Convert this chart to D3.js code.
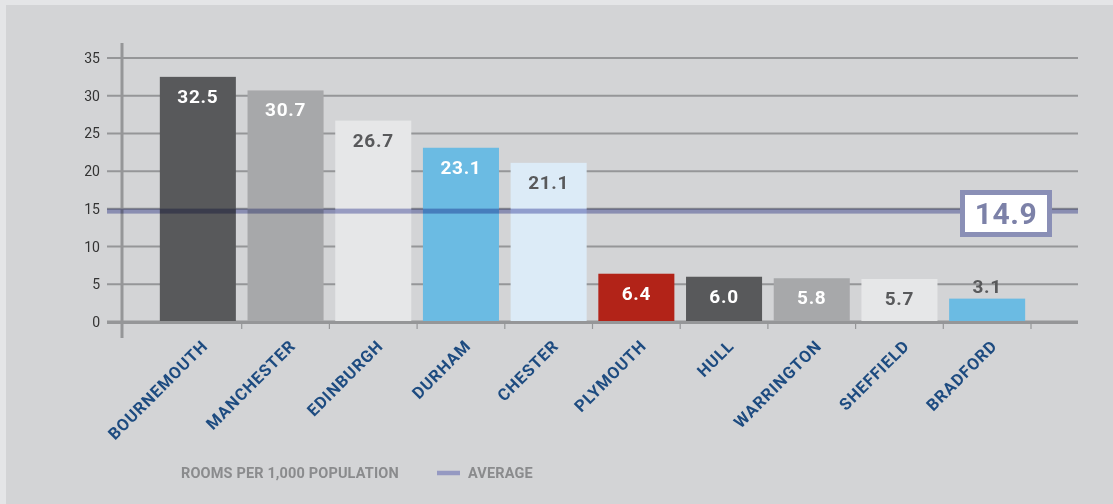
<!DOCTYPE html>
<html><head><meta charset="utf-8">
<script src="https://cdn.jsdelivr.net/npm/d3@7"></script>
<style>
html,body{margin:0;padding:0;background:#e4e5e7;}
svg{display:block;}
</style></head>
<body>
<script>
const categories = ["BOURNEMOUTH","MANCHESTER","EDINBURGH","DURHAM","CHESTER","PLYMOUTH","HULL","WARRINGTON","SHEFFIELD","BRADFORD"];
const values = [32.5, 30.7, 26.7, 23.1, 21.1, 6.4, 6.0, 5.8, 5.7, 3.1];
const valueLabels = ["32.5","30.7","26.7","23.1","21.1","6.4","6.0","5.8","5.7","3.1"];
const barColors = ["#58595b","#a7a8aa","#e6e7e8","#6bbbe3","#dcebf7","#b22318","#58595b","#a7a8aa","#e6e7e8","#6bbbe3"];
const labelColors = ["#ffffff","#ffffff","#58595b","#ffffff","#58595b","#ffffff","#ffffff","#ffffff","#58595b","#58595b"];
const average = 14.9;
const averageLabel = "14.9";
const yTicks = [0,5,10,15,20,25,30,35];
const legendLabels = ["ROOMS PER 1,000 POPULATION","AVERAGE"];

const W = 1113, H = 504;
const svg = d3.select("body").append("svg").attr("width", W).attr("height", H);
svg.append("rect").attr("x",6).attr("y",5).attr("width",W-6).attr("height",H-5).attr("fill","#d3d4d6");

const y = d3.scaleLinear().domain([0,35]).range([322,58]);
const x = d3.scaleBand().domain(categories).range([154,1031]).paddingInner(0.133).paddingOuter(0.0665);

// gridlines
const grid = svg.append("g");
yTicks.forEach(t => {
  grid.append("line").attr("x1",107).attr("x2",1078).attr("y1",y(t)).attr("y2",y(t))
    .attr("stroke","#959698").attr("stroke-width", t===0?3:2);
});
// y tick labels
svg.append("g").selectAll("text").data(yTicks).join("text")
  .attr("x",100).attr("y",d=>y(d)+5).attr("text-anchor","end")
  .attr("font-family","Roboto, sans-serif").attr("font-size",14).attr("fill","#333333")
  .text(d=>d);

// bars
svg.append("g").selectAll("rect").data(categories).join("rect")
  .attr("x",d=>x(d)).attr("width",x.bandwidth())
  .attr("y",(d,i)=>y(values[i])).attr("height",(d,i)=>y(0)-y(values[i]))
  .attr("fill",(d,i)=>barColors[i]);

// x axis line over bars bottom
svg.append("line").attr("x1",107).attr("x2",1078).attr("y1",y(0)+0.5).attr("y2",y(0)+0.5)
  .attr("stroke","#959698").attr("stroke-width",3);
// x ticks at band boundaries
const boundaries = categories.map(c => x(c) + x.bandwidth() + x.step()*0.0665);
svg.append("g").selectAll("line").data(boundaries).join("line")
  .attr("x1",d=>d).attr("x2",d=>d).attr("y1",y(0)).attr("y2",y(0)+7)
  .attr("stroke","#959698").attr("stroke-width",1.2);
// y axis line
svg.append("line").attr("x1",122).attr("x2",122).attr("y1",43).attr("y2",338)
  .attr("stroke","#959698").attr("stroke-width",3);

// average band
svg.append("rect").attr("x",107).attr("width",1078-107)
  .attr("y",y(average)-1).attr("height",5)
  .attr("fill","#a7abd4").style("mix-blend-mode","multiply");

// value labels
svg.append("g").selectAll("text").data(categories).join("text")
  .attr("x",d=>x(d)+x.bandwidth()/2)
  .attr("y",(d,i)=> values[i] < 5 ? y(values[i]) - 6 : y(values[i]) + 26)
  .attr("text-anchor","middle")
  .attr("font-family","Roboto, sans-serif").attr("font-weight","bold").attr("font-size",19)
  .attr("letter-spacing",0.7)
  .attr("fill",(d,i)=>labelColors[i])
  .text((d,i)=>valueLabels[i]);

// average box
svg.append("rect").attr("x",962.5).attr("y",192.5).attr("width",87).attr("height",42)
  .attr("fill","#ffffff").attr("stroke","#8a8fb6").attr("stroke-width",5);
svg.append("text").attr("x",1006).attr("y",y(average)+14.5).attr("text-anchor","middle")
  .attr("font-family","Roboto, sans-serif").attr("font-weight","bold").attr("font-size",30)
  .attr("letter-spacing",0.5)
  .attr("fill","#7c81a8").text(averageLabel);

// x labels
svg.append("g").selectAll("text").data(categories).join("text")
  .attr("transform",d=>`translate(${x(d)+x.bandwidth()/2+11},347) rotate(-45)`)
  .attr("text-anchor","end")
  .attr("font-family","Roboto, sans-serif").attr("font-weight","bold").attr("font-size",16.5)
  .attr("letter-spacing",0.9)
  .attr("fill","#1d4b80")
  .text(d=>d);

// legend
svg.append("text").attr("x",181).attr("y",478)
  .attr("font-family","Roboto, sans-serif").attr("font-weight","bold").attr("font-size",14.5)
  .attr("letter-spacing",0.15)
  .attr("fill","#8a8b8d").text(legendLabels[0]);
svg.append("line").attr("x1",437).attr("x2",460).attr("y1",473).attr("y2",473)
  .attr("stroke","#9599c2").attr("stroke-width",4.5);
svg.append("text").attr("x",468).attr("y",478)
  .attr("font-family","Roboto, sans-serif").attr("font-weight","bold").attr("font-size",14.5)
  .attr("letter-spacing",0.15)
  .attr("fill","#8a8b8d").text(legendLabels[1]);
</script>
</body></html>
